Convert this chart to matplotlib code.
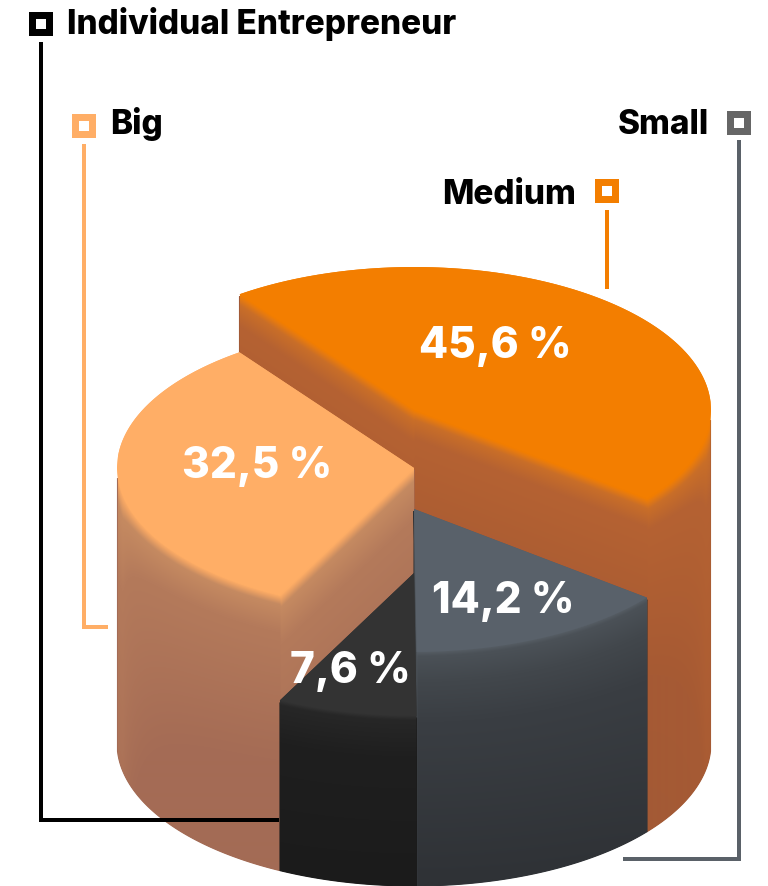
import numpy as np
import matplotlib.pyplot as plt
from matplotlib.colors import to_rgb
from matplotlib.patches import Polygon, Rectangle
from matplotlib.path import Path

# data, clockwise from the back left edge
categories = ['Medium', 'Small', 'Individual Entrepreneur', 'Big']
shares = [45.6, 14.2, 7.6, 32.5]

# look of the drawing
plt.rcParams['font.family'] = ['Inter', 'DejaVu Sans']
top_colors = ['#f37e00', '#59616a', '#333333', '#ffae66']
line_colors = ['#f37e00', '#5a6168', '#000000', '#ffae66']
marker_colors = ['#f37e00', '#666666', '#000000', '#ffae66']
wall_stops = [
    [(0, '#f37e00'), (3, '#e67a10'), (9, '#c96e28'), (26, '#b56232'), (150, '#a65a34'), (340, '#a25a36')],
    [(0, '#555c63'), (4, '#4b5157'), (30, '#42474c'), (70, '#3a3e43'), (230, '#2f3236')],
    [(0, '#323232'), (4, '#272727'), (40, '#1f1f1f'), (170, '#1b1b1b')],
    [(0, '#ffae66'), (3, '#eea263'), (9, '#c58a61'), (36, '#b47a5b'), (160, '#a56c55'), (280, '#a36b55')],
]

cx, base_y, rx, ry = 414, 744, 297, 143
start_angle = 126
top_y = [411, 510, 574, 469]


def sector(y, a1, a2):
    t = np.radians(np.linspace(a1, a2, 240))
    xs = np.r_[cx, cx + rx * np.cos(t)]
    ys = np.r_[y, y - ry * np.sin(t)]
    return np.column_stack([xs, ys])


def y_span(poly, xs):
    # upper and lower edge of a convex outline for each x
    lo = np.full(len(xs), np.inf)
    hi = np.full(len(xs), -np.inf)
    closed = np.vstack([poly, poly[0]])
    for (x1, y1), (x2, y2) in zip(closed[:-1], closed[1:]):
        if x1 == x2:
            continue
        m = (xs >= min(x1, x2)) & (xs <= max(x1, x2))
        ys = y1 + (xs[m] - x1) * (y2 - y1) / (x2 - x1)
        lo[m] = np.minimum(lo[m], ys)
        hi[m] = np.maximum(hi[m], ys)
    return lo, hi


fig = plt.figure(figsize=(7.68, 8.87), dpi=100)
ax = fig.add_axes([0, 0, 1, 1])
ax.axis('off')

angles = np.array(shares) / sum(shares) * 360
a = start_angle
sectors = []
for share in angles:
    sectors.append((a, a - share))
    a -= share

# back to front: Medium, Big, Small, Individual
for z, i in enumerate([0, 3, 1, 2]):
    poly = sector(top_y[i], *sectors[i])
    x0, x1 = int(poly[:, 0].min()) - 1, int(poly[:, 0].max()) + 2
    xs = np.arange(x0, x1, 0.5)
    lo, hi = y_span(poly, xs)
    ok = np.isfinite(lo)
    xs, lo, hi = xs[ok], lo[ok], hi[ok]
    h = base_y - top_y[i]

    # gradient follows the lower edge of the top face, measured across the edge
    yy = np.arange(lo.min(), hi.max() + h + 1, 0.5)
    slope = np.clip(np.abs(np.gradient(hi, xs)), 0, 2.5)
    t = (yy[:, None] - hi[None, :]) / np.sqrt(1 + slope[None, :] ** 2)
    stops = wall_stops[i]
    pos = [s[0] for s in stops]
    rgb = np.array([to_rgb(s[1]) for s in stops])
    img = np.dstack([np.interp(np.clip(t, 0, None), pos, rgb[:, c]) for c in range(3)])

    outline = np.vstack([np.column_stack([xs, lo]), np.column_stack([xs, hi + h])[::-1]])
    # solid underlay below the top face closes the seams between walls
    under = np.vstack([np.column_stack([xs, hi + 2]), np.column_stack([xs, hi + h])[::-1]])
    ax.add_patch(Polygon(under, closed=True, fc=stops[-1][1], ec=stops[-1][1], lw=0.8, zorder=2 + z))
    im = ax.imshow(img, extent=[xs[0], xs[-1], yy[-1], yy[0]], aspect='auto',
                   interpolation='bilinear', zorder=2.1 + z)
    im.set_clip_path(Path(outline), transform=ax.transData)
    ax.add_patch(Polygon(poly, closed=True, fc=top_colors[i], ec='none', zorder=2.5 + z))

ax.set_xlim(0, 768)
ax.set_ylim(887, 0)

# leader lines
lw = 4 * 72 / 100
ax.plot([607, 607], [211, 290], color=line_colors[0], lw=lw, solid_capstyle='butt', zorder=1)
ax.plot([739, 739, 623], [141, 860, 860], color=line_colors[1], lw=lw, solid_capstyle='butt',
        solid_joinstyle='miter', zorder=1)
ax.plot([84, 84, 108], [145, 628, 628], color=line_colors[3], lw=lw, solid_capstyle='butt',
        solid_joinstyle='miter', zorder=1)
ax.plot([41, 41, 279], [43, 821, 821], color=line_colors[2], lw=lw, solid_capstyle='butt',
        solid_joinstyle='miter', zorder=3.8)

# legend squares
marker_xy = [(595, 180), (727, 112), (29, 13), (72, 115)]
for (mx, my), col in zip(marker_xy, marker_colors):
    ax.add_patch(Rectangle((mx, my), 24, 24, fc=col, ec='none', zorder=8))
    ax.add_patch(Rectangle((mx + 7, my + 7), 10, 10, fc='white', ec='none', zorder=9))

# legend names
name_pos = [(576, 204, 'right'), (709, 134, 'right'), (67, 34, 'left'), (110, 134, 'left')]
for (nx, ny, ha), name in zip(name_pos, categories):
    ax.text(nx, ny, name, ha=ha, va='baseline', fontsize=24, fontweight=800, color='black', zorder=10)

# percentages
value_pos = [(495, 358), (503, 613), (350, 683), (257, 478)]
for (vx, vy), share in zip(value_pos, shares):
    label = f'{share:.1f}'.replace('.', ',') + ' %'
    ax.text(vx, vy, label, ha='center', va='baseline', fontsize=30.5, fontweight=800, color='white', zorder=10)

plt.savefig('out.png', dpi=100)
